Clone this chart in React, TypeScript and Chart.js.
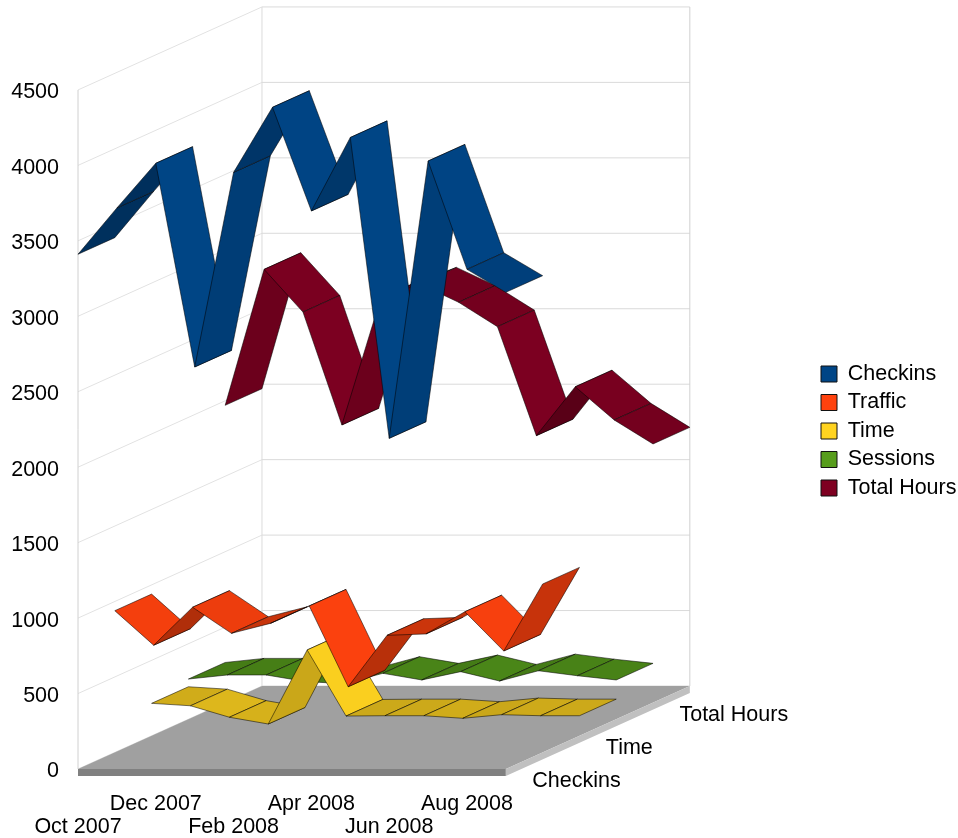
import React, { useEffect, useRef } from "react";
import { Chart, registerables } from "chart.js";

Chart.register(...registerables);

const months = ["Oct 2007", "Nov 2007", "Dec 2007", "Jan 2008", "Feb 2008", "Mar 2008", "Apr 2008", "May 2008", "Jun 2008", "Jul 2008", "Aug 2008", "Sep 2008"];
const labelledMonths = [0, 2, 4, 6, 8, 10];
const valueTicks = [0, 500, 1000, 1500, 2000, 2500, 3000, 3500, 4000, 4500];

const checkins = [3411, 3718, 4014, 2664, 3954, 4385, 3698, 4185, 2191, 4029, 3311, 3159];
const traffic = [939, 710, 962, 789, 855, 970, 435, 776, 785, 932, 672, 1116];
const time = [215, 199, 123, 78, 569, 131, 133, 133, 116, 140, 133, 133];
const sessions = [266, 293, 293, 250, 235, 304, 260, 315, 253, 321, 288, 260];
const totalHours = [1970, 2871, 2588, 1840, 2680, 2774, 2653, 2491, 1769, 2093, 1873, 1714];

const seriesNames = ["Checkins", "Traffic", "Time", "Sessions", "Total Hours"];
const seriesValues = [checkins, traffic, time, sessions, totalHours];
const seriesRgb = [[0, 69, 134], [255, 66, 14], [255, 211, 32], [87, 157, 28], [126, 0, 33]];
const depthLabelled = [0, 2, 4];

// Oblique projection: one depth slot moves right by this many months and up by this many value units.
const DEPTH_X = 0.946;
const DEPTH_Y = 110;
const SLOTS = 5;
const PX_PER_VALUE = 0.1509;
const PX_PER_MONTH = 38.9;
const FLOOR_THICK = 46.4;

const shadeStops: [number, number][] = [[-90, 1], [-45, 0.97], [-17, 0.87], [-5, 0.82], [0, 0.8], [15, 0.78], [48, 0.68], [60, 0.78], [72, 0.85], [80, 0.89], [90, 0.92]];

function shade(rgb: number[], dv: number) {
  const a = (Math.atan((dv * PX_PER_VALUE) / PX_PER_MONTH) * 180) / Math.PI;
  let f = 1;
  for (let i = 0; i < shadeStops.length - 1; i++) {
    const [a0, f0] = shadeStops[i];
    const [a1, f1] = shadeStops[i + 1];
    if (a >= a0 && a <= a1) f = f0 + ((a - a0) / (a1 - a0)) * (f1 - f0);
  }
  return `rgb(${rgb.map((c) => Math.round(c * f)).join(",")})`;
}

function rgbCss(rgb: number[]) {
  return `rgb(${rgb.join(",")})`;
}

const P = (month: number, value: number, depth: number) => ({ x: month + depth * DEPTH_X, y: value + depth * DEPTH_Y });

function poly(points: { x: number; y: number }[], fill: string, stroke?: string, width = 0) {
  return {
    type: "scatter" as const,
    data: [...points, points[0]],
    showLine: true,
    fill: "shape",
    backgroundColor: fill,
    borderColor: stroke ?? fill,
    borderWidth: width,
    pointRadius: 0,
    tension: 0,
    clip: false,
  };
}

function gridLine(points: { x: number; y: number }[], color: string) {
  return {
    type: "scatter" as const,
    data: points,
    showLine: true,
    fill: false,
    borderColor: color,
    borderWidth: 1,
    pointRadius: 0,
    tension: 0,
    clip: false,
  };
}

function buildDatasets() {
  const list: any[] = [];
  const lastMonth = months.length - 1;
  const maxV = valueTicks[valueTicks.length - 1];
  // walls
  valueTicks.forEach((v) => {
    list.push(gridLine([P(0, v, 0), P(0, v, SLOTS)], "#e2e2e2"));
    list.push(gridLine([P(0, v, SLOTS), P(lastMonth, v, SLOTS)], "#dadada"));
  });
  list.push(gridLine([P(0, 0, 0), P(0, maxV, 0)], "#d0d0d0"));
  list.push(gridLine([P(0, 0, SLOTS), P(0, maxV, SLOTS)], "#dcdcdc"));
  list.push(gridLine([P(lastMonth, 0, SLOTS), P(lastMonth, maxV, SLOTS)], "#d0d0d0"));
  // floor
  list.push(poly([P(0, 0, 0), P(lastMonth, 0, 0), P(lastMonth, 0, SLOTS), P(0, 0, SLOTS)], "#a0a0a0"));
  list.push(poly([P(0, 0, 0), P(lastMonth, 0, 0), P(lastMonth, -FLOOR_THICK, 0), P(0, -FLOOR_THICK, 0)], "#808080"));
  list.push(poly([P(lastMonth, 0, 0), P(lastMonth, 0, SLOTS), P(lastMonth, -FLOOR_THICK, SLOTS), P(lastMonth, -FLOOR_THICK, 0)], "#c0c0c0"));
  // ribbons, back to front
  for (let s = seriesValues.length - 1; s >= 0; s--) {
    const vals = seriesValues[s];
    for (let i = 0; i < vals.length - 1; i++) {
      list.push(
        poly(
          [P(i, vals[i], s), P(i + 1, vals[i + 1], s), P(i + 1, vals[i + 1], s + 1), P(i, vals[i], s + 1)],
          shade(seriesRgb[s], vals[i + 1] - vals[i]),
          "rgba(0,0,0,0.75)",
          0.7
        )
      );
    }
  }
  // Chart.js paints the first dataset last.
  return list.reverse();
}

const FONT = { family: "'Liberation Sans'", size: 21.5 };

const chromePlugin = {
  id: "chrome",
  afterLayout(chart: any) {
    const lg = chart.legend;
    if (lg) {
      lg.left += 123;
      lg.right = 958;
      lg.top += 8;
      lg.bottom += 8;
    }
  },
  afterDatasetsDraw(chart: any) {
    const { ctx, scales } = chart;
    const lastMonth = months.length - 1;
    ctx.save();
    ctx.font = `${FONT.size}px ${FONT.family}`;
    ctx.fillStyle = "#000";
    ctx.textAlign = "left";
    ctx.textBaseline = "middle";
    depthLabelled.forEach((s) => {
      const p = P(lastMonth, -FLOOR_THICK, s + 0.5);
      ctx.fillText(seriesNames[s], scales.x.getPixelForValue(p.x) + 8, scales.y.getPixelForValue(p.y) + 13.5);
    });
    ctx.restore();
  },
};

export default function App() {
  const ref = useRef<HTMLCanvasElement>(null);
  useEffect(() => {
    const chart = new Chart(ref.current!, {
      type: "scatter",
      data: { datasets: buildDatasets() },
      plugins: [chromePlugin],
      options: {
        animation: false,
        responsive: false,
        devicePixelRatio: 1,
        layout: { padding: { top: 8, right: 147, left: 0, bottom: 0 } },
        scales: {
          x: {
            type: "linear",
            min: 0,
            max: 15.76,
            border: { display: false },
            grid: { display: false, drawTicks: false },
            afterFit(scale: any) {
              scale.height = 62;
              scale.paddingLeft = 0;
              scale.paddingRight = 0;
            },
            afterBuildTicks(scale: any) {
              scale.ticks = labelledMonths.map((value) => ({ value }));
            },
            ticks: {
              autoSkip: false,
              maxRotation: 0,
              minRotation: 0,
              padding: 17,
              color: "#000",
              font: { ...FONT, lineHeight: 1.07 },
              callback(value: any) {
                const idx = labelledMonths.indexOf(Number(value));
                return idx % 2 === 0 ? ["", months[Number(value)]] : [months[Number(value)], ""];
              },
            },
          },
          y: {
            type: "linear",
            min: -FLOOR_THICK,
            max: 5043,
            border: { display: false },
            grid: { display: false, drawTicks: false },
            afterFit(scale: any) {
              scale.width = 78;
              scale.paddingTop = 0;
              scale.paddingBottom = 0;
            },
            afterBuildTicks(scale: any) {
              scale.ticks = valueTicks.map((value) => ({ value }));
            },
            ticks: { padding: 19, labelOffset: 2.5, color: "#000", font: FONT, callback: (v: any) => String(v) },
          },
        },
        plugins: {
          tooltip: { enabled: false },
          legend: {
            position: "right",
            maxWidth: 120,
            onClick: () => {},
            labels: {
              boxWidth: 16,
              boxHeight: 16,
              padding: 7,
              color: "#000",
              font: FONT,
              generateLabels: () =>
                seriesNames.map((text, i) => ({
                  text,
                  fillStyle: rgbCss(seriesRgb[i]),
                  strokeStyle: "#111",
                  lineWidth: 1,
                  hidden: false,
                  datasetIndex: i,
                })),
            },
          },
        },
      } as any,
    });
    return () => chart.destroy();
  }, []);
  return (
    <div style={{ position: "absolute", left: 0, top: 0, width: 958, height: 838 }}>
      <canvas ref={ref} width={958} height={838} style={{ display: "block" }} />
    </div>
  );
}
